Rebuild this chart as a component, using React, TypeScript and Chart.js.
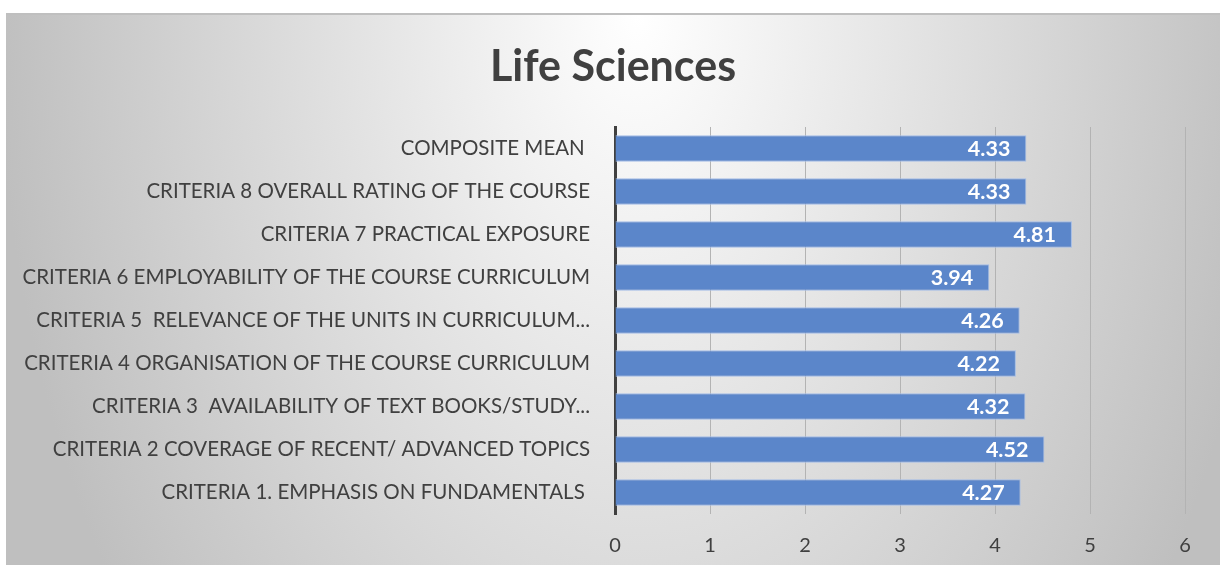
import { useEffect, useRef } from "react";
import { Chart, registerables } from "chart.js";

Chart.register(...registerables);

const categories = [
  "COMPOSITE MEAN ",
  "CRITERIA 8 OVERALL RATING OF THE COURSE",
  "CRITERIA 7 PRACTICAL EXPOSURE",
  "CRITERIA 6 EMPLOYABILITY OF THE COURSE CURRICULUM",
  "CRITERIA 5  RELEVANCE OF THE UNITS IN CURRICULUM...",
  "CRITERIA 4 ORGANISATION OF THE COURSE CURRICULUM",
  "CRITERIA 3  AVAILABILITY OF TEXT BOOKS/STUDY...",
  "CRITERIA 2 COVERAGE OF RECENT/ ADVANCED TOPICS",
  "CRITERIA 1. EMPHASIS ON FUNDAMENTALS ",
];

const values = [4.33, 4.33, 4.81, 3.94, 4.26, 4.22, 4.32, 4.52, 4.27];

const axisMin = 0;
const axisMax = 6;
const axisStep = 1;

const titleText = "Life Sciences";

const FONT = "Lato, 'Noto Sans', sans-serif";

const valueLabelPlugin = {
  id: "valueLabels",
  afterDatasetsDraw(chart: any) {
    const ctx = chart.ctx;
    ctx.save();
    ctx.font = `bold 21.5px ${FONT}`;
    ctx.fillStyle = "#ffffff";
    ctx.textAlign = "right";
    ctx.textBaseline = "middle";
    chart.data.datasets.forEach((ds: any, di: number) => {
      const meta = chart.getDatasetMeta(di);
      meta.data.forEach((el: any, i: number) => {
        const v = ds.data[i] as number;
        ctx.fillText(v.toFixed(2), el.x - 16, el.y + 1);
      });
    });
    ctx.restore();
  },
};

const centeredTitlePlugin = {
  id: "centeredTitle",
  afterDraw(chart: any) {
    const ctx = chart.ctx;
    ctx.save();
    ctx.font = `bold 43px ${FONT}`;
    ctx.fillStyle = "#404040";
    ctx.textAlign = "center";
    ctx.textBaseline = "middle";
    ctx.fillText(titleText, chart.width / 2, 52);
    ctx.restore();
  },
};

export default function App() {
  const ref = useRef<HTMLCanvasElement | null>(null);

  useEffect(() => {
    if (!ref.current) return;
    const chart = new Chart(ref.current, {
      type: "bar",
      data: {
        labels: categories,
        datasets: [
          {
            data: values,
            backgroundColor: "#5B86CA",
            borderColor: "#A3BCE6",
            borderWidth: 1,
            barPercentage: 0.62,
            categoryPercentage: 1,
          },
        ],
      },
      options: {
        indexAxis: "y",
        responsive: false,
        animation: false,
        layout: { padding: { left: 0, right: 35, top: 112, bottom: 0 } },
        plugins: {
          legend: { display: false },
          tooltip: { enabled: false },
          title: { display: false },
        },
        scales: {
          x: {
            min: axisMin,
            max: axisMax,
            ticks: {
              stepSize: axisStep,
              color: "#404040",
              font: { family: FONT, size: 20 },
              padding: 20,
            },
            grid: {
              color: "#b3b3b3",
              lineWidth: 1,
              drawTicks: false,
            },
            border: { display: false },
            afterFit(scale: any) {
              scale.height = 51;
            },
          },
          y: {
            ticks: {
              color: "#404040",
              font: { family: FONT, size: 20.5 },
              padding: 25,
              autoSkip: false,
            },
            grid: { display: false, drawTicks: false },
            border: { display: true, color: "#404040", width: 3 },
            afterFit(scale: any) {
              scale.width = 609;
            },
          },
        },
      },
      plugins: [valueLabelPlugin, centeredTitlePlugin],
    });
    return () => chart.destroy();
  }, []);

  return (
    <div
      style={{
        position: "absolute",
        left: 6,
        top: 13,
        width: 1214,
        height: 550,
        borderTop: "2px solid #bfbfbf",
        background:
          "radial-gradient(ellipse 640px 1000px at 52% 0%, #ffffff 0%, #bfbfbf 100%)",
      }}
    >
      <canvas ref={ref} width={1214} height={550} style={{ display: "block" }} />
    </div>
  );
}
